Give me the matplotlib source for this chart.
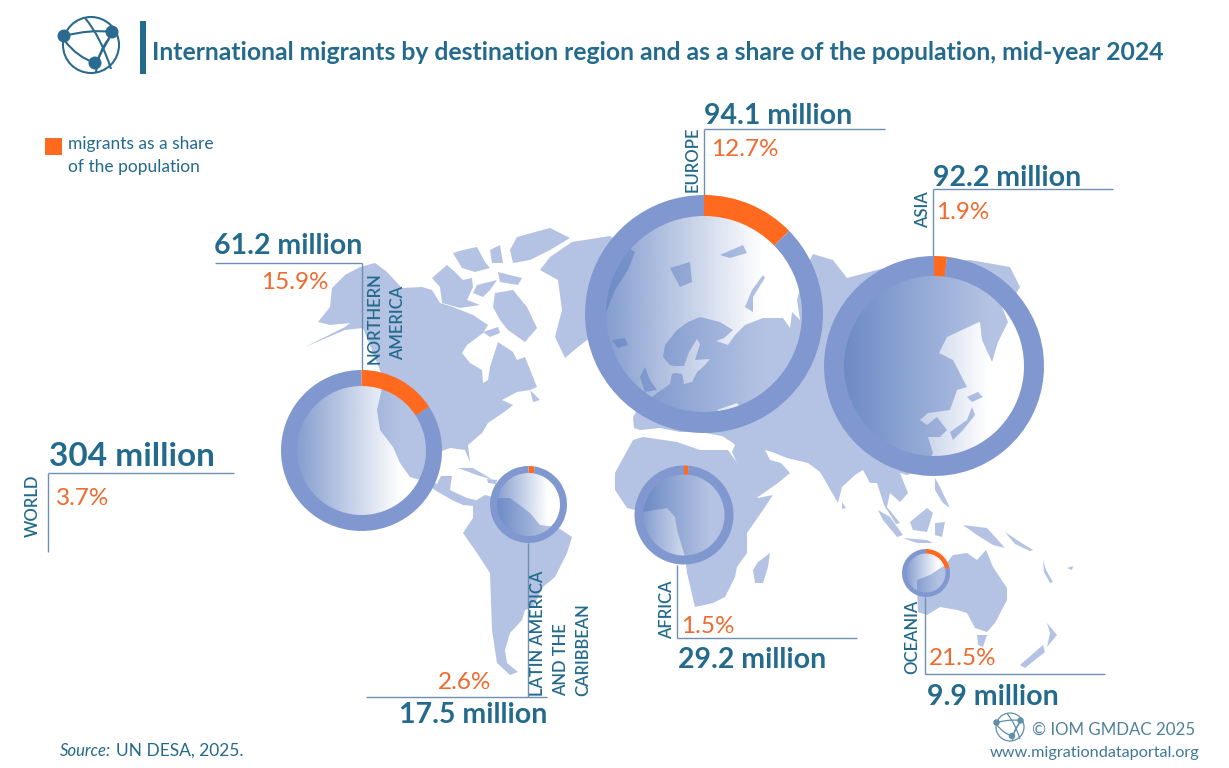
import numpy as np
import matplotlib
matplotlib.use("Agg")
import matplotlib.pyplot as plt
from matplotlib.patches import Circle, Polygon, PathPatch, Rectangle
from matplotlib.path import Path
from matplotlib import font_manager

W = 1229
H = 768

# the values
regions = ["EUROPE", "ASIA", "NORTHERN\nAMERICA", "LATIN AMERICA\nAND THE\nCARIBBEAN", "AFRICA", "OCEANIA"]
migrants = [94.1, 92.2, 61.2, 17.5, 29.2, 9.9]
shares = [12.7, 1.9, 15.9, 2.6, 1.5, 21.5]
world_migrants = 304
world_share = 3.7

title = "International migrants by destination region and as a share of the population, mid-year 2024"
legend_text = "migrants as a share\nof the population"

# rings: centre x, centre y, outer radius, ring width (picture pixels)
ring_x = [704, 934, 361.5, 528.5, 684, 926]
ring_y = [314, 366, 450.5, 504.5, 515, 573]
ring_r = [119, 110, 80.5, 38.5, 49.5, 24]
ring_w = [21, 20, 16, 7, 9, 4.5]

# land outlines, y counted from the top
north_america = [(305,347),(325,337),(345,327),(350,323),(330,325),(318,322),(330,307),(332,288),(345,275),
    (360,267),(375,263),(387,272),(402,288),(422,287),(432,290),(440,303),(453,307),(473,315),(488,325),
    (483,333),(467,345),(462,353),(470,363),(482,370),(483,383),(488,380),(490,367),(498,342),(513,352),
    (517,360),(525,357),(533,377),(537,387),(530,390),(517,392),(502,400),(513,405),(507,410),(488,423),
    (482,433),(468,445),(470,462),(465,450),(450,448),(437,453),(426,462),(428,480),(437,484),(441,476),
    (452,476),(450,490),(467,498),(476,500),(473,506),(463,505),(452,500),(438,492),(420,480),(410,477),
    (400,463),(393,447),(380,430),(377,410),(382,388),(380,370),(363,328),(345,330)]
greenland = [(572,242),(610,236),(635,252),(628,270),(615,290),(607,310),(600,330),(578,347),(565,358),
    (555,337),(562,310),(558,280),(540,270),(550,257)]
ellesmere = [(517,237),(535,232),(550,228),(570,238),(550,250),(530,260),(513,263),(510,250)]
banks = [(432,278),(447,265),(455,272),(463,280),(472,278),(473,287),(467,300),(480,305),(460,308),(442,303),(440,287)]
arctic_a = [(453,253),(463,250),(477,247),(485,262),(490,268),(475,272),(462,268)]
arctic_b = [(477,285),(497,280),(490,290),(483,297),(473,293)]
arctic_c = [(498,272),(522,278),(518,285),(500,282)]
arctic_d = [(490,250),(500,245),(503,263),(492,263)]
arctic_e = [(483,332),(498,327),(500,333),(490,337)]
baffin = [(495,293),(513,290),(527,307),(537,328),(525,342),(508,330),(500,320),(493,307)]
newfoundland = [(530,390),(540,400),(533,402)]
cuba = [(458,468),(473,468),(493,480),(477,475)]
hispaniola = [(487,479),(497,480),(496,484),(488,483)]
south_america = [(473,502),(485,495),(497,498),(510,498),(530,513),(540,525),(557,527),(572,537),(567,553),
    (555,577),(543,587),(533,607),(525,610),(522,620),(510,633),(505,650),(507,663),(518,672),(510,675),
    (497,663),(492,630),(490,573),(477,553),(463,533),(473,518)]
eurasia = [(633,417),(640,405),(648,400),(657,393),(670,384),(672,374),(677,372),(682,368),(670,365),(663,357),
    (665,345),(677,330),(688,322),(700,317),(720,322),(733,330),(724,338),(716,341),(728,345),(735,335),
    (745,325),(763,318),(783,318),(790,328),(792,312),(800,320),(797,300),(805,270),(813,254),(833,260),
    (847,278),(877,270),(903,263),(940,262),(970,260),(1010,267),(1020,287),(1012,300),(1002,307),(1008,322),
    (998,342),(992,362),(982,340),(980,322),(977,323),(947,337),(939,353),(953,360),(967,387),(957,390),
    (950,410),(928,413),(920,420),(927,425),(937,417),(947,430),(940,437),(928,437),(933,453),(925,468),
    (907,475),(900,473),(908,493),(900,502),(890,493),(887,507),(900,523),(896,524),(884,505),(877,483),
    (870,483),(863,470),(855,475),(842,487),(838,503),(823,477),(820,472),(808,463),(787,458),(772,452),
    (765,450),(770,460),(781,463),(790,473),(778,483),(758,497),(755,493),(740,470),(732,452),(735,445),
    (733,443),(722,436),(700,432),(680,432),(660,428),(640,430),(634,428)]
africa = [(633,440),(622,460),(615,473),(615,490),(627,508),(643,512),(667,508),(675,517),(677,530),(685,557),
    (687,573),(695,607),(713,603),(725,597),(735,577),(737,567),(747,553),(747,533),(763,510),(773,495),
    (758,498),(753,487),(740,467),(728,450),(700,450),(677,442),(643,437)]
madagascar = [(770,553),(768,567),(763,583),(755,583),(753,570),(758,562)]
iceland = [(612,340),(625,338),(628,345),(618,348)]
britain = [(640,377),(645,367),(650,380),(657,390),(645,392)]
svalbard = [(670,268),(690,262),(692,282),(680,287)]
franz_josef = [(720,255),(743,245),(747,253),(730,258)]
novaya_zemlya = [(763,275),(752,290),(745,307),(753,312),(753,297),(765,278)]
hokkaido = [(967,397),(978,392),(983,397),(972,402)]
honshu = [(950,432),(967,420),(972,407),(975,415),(963,430),(953,440)]
sri_lanka = [(842,502),(846,508),(842,509)]
sumatra = [(878,510),(890,517),(903,535),(897,537),(883,520)]
java = [(903,538),(927,540),(933,543),(917,543)]
borneo = [(910,522),(927,508),(933,513),(927,532),(913,530)]
sulawesi = [(935,523),(945,522),(942,537),(935,535)]
philippines = [(935,478),(940,487),(950,508),(943,503),(935,490)]
new_guinea = [(963,525),(987,528),(1005,548),(993,545),(977,535)]
australia = [(917,580),(930,575),(945,565),(953,555),(967,553),(977,560),(986,550),(993,567),(1007,588),(1007,600),
    (995,623),(987,632),(975,628),(967,613),(957,610),(940,607),(927,615),(918,612),(917,590)]
tasmania = [(977,635),(987,635),(983,647),(978,645)]
nz_south = [(1020,665),(1043,645),(1045,652),(1025,668)]
nz_north = [(1047,623),(1057,635),(1047,647),(1050,633)]
new_caledonia = [(1067,568),(1073,566),(1072,570)]
vanuatu = [(1043,560),(1046,570),(1053,582),(1050,583),(1044,572)]
solomon = [(1005,532),(1020,542),(1033,550),(1030,551),(1015,544)]
land = [north_america, greenland, ellesmere, banks, arctic_a, arctic_b, arctic_c, arctic_d, arctic_e, baffin, newfoundland,
    cuba, hispaniola, south_america, eurasia, africa, madagascar, iceland, britain, svalbard, franz_josef, novaya_zemlya,
    hokkaido, honshu, sri_lanka, sumatra, java, borneo, sulawesi, philippines, new_guinea, australia, tasmania,
    nz_south, nz_north, new_caledonia, vanuatu, solomon]

baltic = [(668,366),(684,366),(689,352),(697,339),(700,344),(695,360),(710,359),(704,366),(697,372),(692,382),(684,384),(682,374),(670,372)]
black_sea = [(717,410),(737,403),(742,410),(722,414)]
seas = [baltic, black_sea]

TEAL = "#236a8c"
ORANGE_TEXT = "#f0692e"
ORANGE = "#ff6a1f"
RING = "#8098cf"
LAND = "#b4c3e3"
LINE = "#6f8fb2"

plt.rcParams["font.family"] = ["Lato", "DejaVu Sans"]

# light cut if it is there under its own family name
names = set(f.name for f in font_manager.fontManager.ttflist)
THIN = "Lato Light" if "Lato Light" in names else "Lato"
print(THIN)

fig = plt.figure(figsize=(W/100, H/100), dpi=100)
ax = fig.add_axes([0, 0, 1, 1])


def flip(pts):
    return [(x, H-y) for x, y in pts]


def put(x, y, s, **kw):
    ax.text(x, H-y, s, color=kw.pop("color", TEAL), zorder=10, **kw)


def leader(x0, y0, x1, y1):
    ax.plot([x0, x1], [H-y0, H-y1], color=LINE, lw=1.0, zorder=4, solid_capstyle="butt")


def logo(cx, cy, r, col, lw):
    k = r/28.0
    cy = H-cy
    ax.add_patch(Circle((cx, cy), r, fill=False, ec=col, lw=lw, zorder=6))
    nodes = [(-27, 9), (21, 13), (4, -18)]
    links = [((-27, 9), (0, 16), (21, 13)), ((-26, 4), (-14, -12), (4, -18)), ((21, 13), (12, -6), (4, -18)),
        ((-6, 27), (10, 8), (20, -24)), ((18, 6), (8, -4), (5, -27))]
    for a, b, c in links:
        pts = [(cx+p[0]*k, cy+p[1]*k) for p in (a, b, c)]
        ax.add_patch(PathPatch(Path(pts, [Path.MOVETO, Path.CURVE3, Path.CURVE3]), fill=False, ec=col, lw=lw, zorder=6))
    for nx, ny in nodes:
        ax.add_patch(Circle((cx+nx*k, cy+ny*k), 6.5*k, fc=col, ec="none", zorder=7))


def pct(x, y, val, **kw):
    put(x, y, "%s%%" % val, fontsize=PCT, family=THIN, color=ORANGE_TEXT, **kw)


def vlabel(x, y, s):
    put(x, y, s, fontsize=LAB, fontweight="semibold", rotation=90, ha="center", va="bottom")


# map
for poly in land:
    ax.add_patch(Polygon(flip(poly), closed=True, fc=LAND, ec="none", zorder=1))
for poly in seas:
    ax.add_patch(Polygon(flip(poly), closed=True, fc="white", ec="none", zorder=2))

# lens shading and rings
shade = np.zeros((1, 256, 4))
shade[0, :, :3] = matplotlib.colors.to_rgb("#4f72ba")
shade[0, :, 3] = np.clip(0.7*(1-np.linspace(0, 1, 256)/0.8), 0, 1)

for i in range(len(regions)):
    cx, cy, r, w = ring_x[i], H-ring_y[i], ring_r[i], ring_w[i]
    im = ax.imshow(shade, extent=(cx-r+w-1, cx+r-w+1, cy-r+w-1, cy+r-w+1), aspect="auto", zorder=3, interpolation="bilinear")
    im.set_clip_path(Circle((cx, cy), r-w+1, transform=ax.transData))
    ax.pie([shares[i], 100-shares[i]], radius=r, center=(cx, cy), startangle=90, counterclock=False,
        colors=[ORANGE, RING], wedgeprops={"width": w, "linewidth": 0, "zorder": 5})

# leader lines and labels
H1 = 20.5
PCT = 18 if THIN == "Lato Light" else 17.5
LAB = 12

# Europe
leader(704, 129, 704, 195)
leader(704, 129, 885, 129)
put(704, 124, "%s million" % migrants[0], fontsize=H1, fontweight="bold")
pct(711, 156, shares[0])
vlabel(693, 192, regions[0])

# Asia
leader(933, 189, 933, 256)
leader(933, 189, 1113, 189)
put(933, 186, "%s million" % migrants[1], fontsize=H1, fontweight="bold")
pct(936, 219, shares[1])
vlabel(923, 228, regions[1])

# Northern America
leader(362, 263, 362, 370)
leader(215, 263, 362, 263)
put(362, 254, "%s million" % migrants[2], fontsize=H1, fontweight="bold", ha="right")
pct(329, 289, shares[2], ha="right")
na_lines = regions[2].split("\n")
vlabel(375, 364, na_lines[0])
vlabel(398, 360, na_lines[1])

# Latin America
leader(528, 543, 528, 697)
leader(366, 697, 547, 697)
put(547, 723, "%s million" % migrants[3], fontsize=H1, fontweight="bold", ha="right")
pct(491, 689, shares[3], ha="right")
la_lines = regions[3].split("\n")
vlabel(538, 696, la_lines[0])
vlabel(561, 696, la_lines[1])
vlabel(583, 696, la_lines[2])

# Africa
leader(677, 565, 677, 638)
leader(677, 638, 857, 638)
put(678, 668, "%s million" % migrants[4], fontsize=H1, fontweight="bold")
pct(681, 633, shares[4])
vlabel(667, 639, regions[4])

# Oceania
leader(925, 597, 925, 674)
leader(925, 674, 1105, 674)
put(927, 705, "%s million" % migrants[5], fontsize=H1, fontweight="bold")
pct(929, 665, shares[5])
vlabel(912, 674, regions[5])

# World
leader(48, 473, 48, 552)
leader(48, 473, 234, 473)
put(49, 466, "%s million" % world_migrants, fontsize=24, fontweight="bold")
pct(56, 505, world_share)
vlabel(33, 537, "WORLD")

# header
logo(91, 45, 28, "#2a6a8e", 1.5)
ax.add_patch(Rectangle((140, H-74), 6, 53, fc=TEAL, ec="none", zorder=6))
put(152, 60, title, fontsize=17.85, fontweight="bold")

# legend
ax.add_patch(Rectangle((45, H-155), 17, 17, fc=ORANGE, ec="none", zorder=6))
put(68, 149, legend_text.split("\n")[0], fontsize=12.5, family=THIN)
put(68, 172, legend_text.split("\n")[1], fontsize=12.5, family=THIN)

# footer
put(60, 756, "Source:", fontsize=12, style="italic")
put(116, 756, "UN DESA, 2025.", fontsize=12.5, family=THIN)
logo(1010, 727, 14, "#5f8fa9", 0.9)
put(1032, 735, "© IOM GMDAC 2025", fontsize=12.2, family=THIN, color="#4f809c")
put(1199, 757, "www.migrationdataportal.org", fontsize=11.7, ha="right", color="#3f7896")

ax.set_xlim(0, W)
ax.set_ylim(0, H)
ax.set_aspect("auto")
ax.axis("off")
fig.savefig("out.png", dpi=100, facecolor="white")
